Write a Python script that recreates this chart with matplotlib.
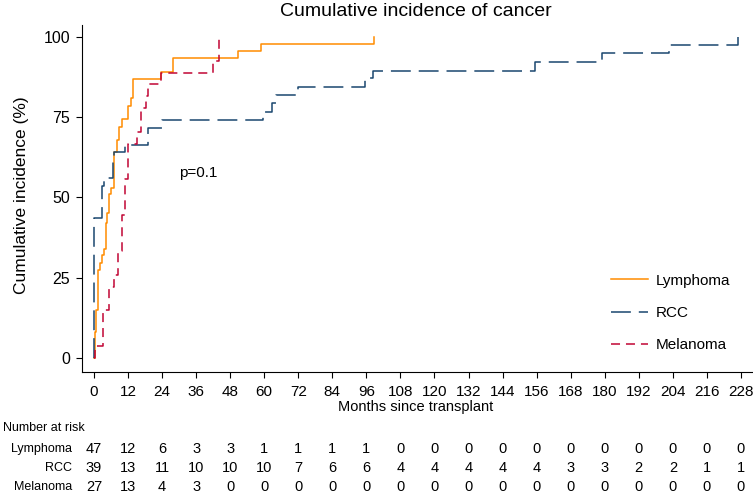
import matplotlib
matplotlib.use("Agg")
import matplotlib.pyplot as plt
from matplotlib.transforms import blended_transform_factory

plt.rcParams['font.family'] = ['Liberation Sans', 'DejaVu Sans']

# step data (months, cumulative incidence %)
lymphoma_t = [0, 0.5, 0.9, 1.6, 2.1, 3.0, 3.7, 4.2, 4.7, 5.2, 6.1, 7.0, 8.0, 8.9,
              9.9, 12.0, 13.1, 13.8, 23.8, 27.9, 50.8, 58.8, 98.6]
lymphoma_v = [0, 8, 15, 27.4, 29.6, 32, 34, 42, 45, 51, 53, 64, 68, 72,
              74.5, 78.5, 81, 87, 89.2, 93.4, 95.6, 97.7, 100]

rcc_t = [0, 0.2, 3.0, 3.7, 6.6, 7.2, 11.1, 19.1, 24.0, 59.6, 62.6, 64.1, 72.0,
         95.4, 98.4, 155.3, 179.1, 202.8, 226.9]
rcc_v = [0, 43.6, 53.4, 56, 61.5, 64, 66.4, 71.5, 74.1, 76.7, 79.3, 82, 84.5,
         87.1, 89.5, 92.1, 94.9, 97.5, 100]

melanoma_t = [0, 0.4, 3.1, 5.4, 7.0, 8.5, 9.8, 11.0, 12.1, 15.2, 16.5, 18.2, 19.2,
              23.8, 42.0, 44.0]
melanoma_v = [0, 3.7, 14.8, 22.2, 25.9, 33.3, 44.4, 55.6, 66.7, 70.4, 77.8, 81.5, 85.2,
              88.9, 92.6, 100]

risk_times = list(range(0, 229, 12))
risk_labels = ['Lymphoma', 'RCC', 'Melanoma']
risk_lymphoma = [47, 12, 6, 3, 3, 1, 1, 1, 1, 0, 0, 0, 0, 0, 0, 0, 0, 0, 0, 0]
risk_rcc = [39, 13, 11, 10, 10, 10, 7, 6, 6, 4, 4, 4, 4, 4, 3, 3, 2, 2, 1, 1]
risk_melanoma = [27, 13, 4, 3, 0, 0, 0, 0, 0, 0, 0, 0, 0, 0, 0, 0, 0, 0, 0, 0]

orange = '#ff8c00'
navy = '#1a476f'
cranberry = '#c10534'

fig = plt.figure(figsize=(7.53, 4.96), dpi=100)
ax = fig.add_axes([82 / 753, 1 - 372 / 496, 670 / 753, 347 / 496])

lw = 1.1
ax.step(lymphoma_t, lymphoma_v, where='post', color=orange, lw=lw, label='Lymphoma')
ax.step(rcc_t, rcc_v, where='post', color=navy, lw=lw, dashes=(13, 5.2), label='RCC')
ax.step(melanoma_t, melanoma_v, where='post', color=cranberry, lw=lw, dashes=(5.9, 3.9),
        label='Melanoma')

ax.set_xlim(-4.2, 231.9)
ax.set_ylim(-4.4, 103.7)
ax.set_xticks(risk_times)
ax.set_yticks([0, 25, 50, 75, 100])
for side in ('top', 'right'):
    ax.spines[side].set_visible(False)
ax.spines['left'].set_linewidth(0.8)
ax.spines['bottom'].set_linewidth(0.8)
ax.tick_params(axis='x', length=4.5, width=0.8, pad=4.5, labelsize=11)
ax.tick_params(axis='y', length=4.5, width=0.8, pad=4, labelsize=11.5)

ax.text(30.0, 57.5, 'p=0.1', fontsize=11, va='center', ha='left')

ax.legend(loc='upper left', bbox_to_anchor=(0.79, 0.283), frameon=False, fontsize=11,
          handlelength=2.4, handletextpad=0.5, labelspacing=1.2, borderpad=0,
          borderaxespad=0)

fig.text(0.5525, 1 - 12 / 496, 'Cumulative incidence of cancer', ha='center', va='center',
         fontsize=14)
fig.text(0.029, 1 - 195 / 496, 'Cumulative incidence (%)', rotation=90, ha='center',
         va='center', fontsize=12.5)
fig.text(0.5525, 1 - 407 / 496, 'Months since transplant', ha='center', va='center',
         fontsize=10.5)

# number at risk table
fig.text(3 / 753, 1 - 428 / 496, 'Number at risk', ha='left', va='center', fontsize=9)
trans = blended_transform_factory(ax.transData, fig.transFigure)
rows = [risk_lymphoma, risk_rcc, risk_melanoma]
row_y = [449, 468, 487]
for label, counts, y in zip(risk_labels, rows, row_y):
    yf = 1 - y / 496
    fig.text(72 / 753, yf, label, ha='right', va='center', fontsize=9)
    for t, n in zip(risk_times, counts):
        ax.text(t, yf, str(n), transform=trans, ha='center', va='center', fontsize=10.5,
                clip_on=False)

fig.savefig('out.png', dpi=100)
